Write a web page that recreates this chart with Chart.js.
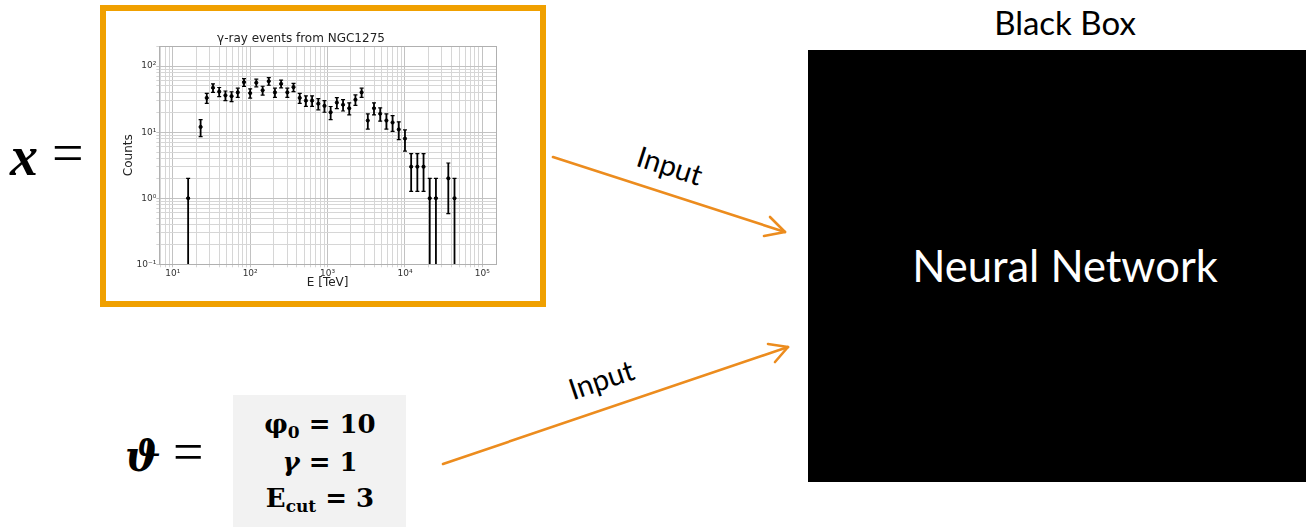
<!DOCTYPE html>
<html>
<head>
<meta charset="utf-8">
<script src="https://cdn.jsdelivr.net/npm/chart.js@4"></script>
<style>
  html, body { margin: 0; padding: 0; background: #fff; }
  #page { position: relative; width: 1306px; height: 527px; overflow: hidden; background: #fff; }
  #plotBox { position: absolute; left: 100px; top: 5px; width: 434px; height: 290px; border: 6px solid #F0A000; background: #fff; }
  #plotBox canvas { position: absolute; left: 0; top: 0; }
  #overlay { position: absolute; left: 0; top: 0; }
</style>
</head>
<body>
<div id="page">
  <svg id="overlay" width="1306" height="527" xmlns="http://www.w3.org/2000/svg">
    <!-- x = -->
    <text x="10" y="175" font-family="Liberation Serif" font-weight="bold" font-style="italic" font-size="56">x</text>
    <text x="52" y="172" font-family="Liberation Serif" font-size="56">=</text>

    <!-- theta = -->
    <text x="125" y="471" font-family="DejaVu Serif" font-weight="bold" font-style="italic" font-size="42">ϑ</text>
    <text x="173" y="470" font-family="Liberation Serif" font-size="54">=</text>

    <!-- parametros del modelo -->
    <rect x="233" y="395" width="173" height="132" fill="#F2F2F2"/>
    <text x="320" y="433" text-anchor="middle" font-family="DejaVu Serif" font-weight="bold" font-size="26">φ<tspan font-size="17" dy="5">0</tspan><tspan dy="-5"> = 10</tspan></text>
    <text x="320" y="471" text-anchor="middle" font-family="DejaVu Serif" font-weight="bold" font-size="26"><tspan font-style="italic">γ</tspan> = 1</text>
    <text x="320" y="507" text-anchor="middle" font-family="DejaVu Serif" font-weight="bold" font-size="26">E<tspan font-size="17" dy="5">cut</tspan><tspan dy="-5"> = 3</tspan></text>

    <!-- caja negra -->
    <text x="1065" y="35" text-anchor="middle" font-family="Lato" font-size="33" fill="#000">Black Box</text>
    <rect x="808" y="50" width="498" height="432" fill="#000"/>
    <text x="1065" y="282" text-anchor="middle" font-family="Lato" font-size="43.5" fill="#fff">Neural Network</text>

    <!-- flechas de entrada -->
    <g stroke="#EC8C1E" stroke-width="2.6" fill="none" stroke-linecap="round" stroke-linejoin="round">
      <line x1="553" y1="157" x2="785" y2="232"/>
      <polyline points="770,217 785,232 764,236"/>
      <line x1="443" y1="464" x2="788" y2="347"/>
      <polyline points="768,344 788,347 775,362"/>
    </g>
    <g font-family="Lato" font-size="29" fill="#000" text-anchor="middle">
      <text transform="translate(669,168) rotate(17.8)" y="8">Input</text>
      <text transform="translate(602,382) rotate(-18.7)" y="8">Input</text>
    </g>
  </svg>

  <div id="plotBox"><canvas id="myChart" width="434" height="290"></canvas></div>
</div>

<script>
// Energia central de cada bin (TeV) y numero de eventos
const energias = [15.8, 22.9, 27.5, 33.1, 39.8, 47.9, 57.5, 69.2, 83.2, 100, 120, 145, 174, 209, 251, 302, 363, 437, 525, 631, 759, 912, 1096, 1318, 1585, 1905, 2291, 2754, 3311, 3981, 4786, 5754, 6918, 8318, 10000, 12023, 14454, 17378, 20893, 25119, 36308, 43652]
const cuentas = [1, 12, 33, 47, 41, 36, 35, 40, 57, 39, 56, 43, 59, 40, 54, 40, 48, 33, 30, 30, 27, 25, 20, 28, 26, 23, 31, 40, 15, 23, 19, 15, 14, 11, 8, 3, 3, 3, 1, 1, 2, 1]

// Etiquetas de las decadas
const decadasX = [1, 2, 3, 4, 5]
const etiquetasX = ['10¹', '10²', '10³', '10⁴', '10⁵']
const decadasY = [-1, 0, 1, 2]
const etiquetasY = ['10⁻¹', '10⁰', '10¹', '10²']

const esPotencia10 = v => Math.abs(Math.log10(v) - Math.round(Math.log10(v))) < 1e-9

// ticks mayores y menores tipo matplotlib (1..9 x 10^n)
const ticksLog = (min, max) => {
    const ticks = []
    for (let e = Math.floor(Math.log10(min)); e <= Math.ceil(Math.log10(max)); e++) {
        for (let k = 1; k <= 9; k++) {
            const v = +(k * Math.pow(10, e)).toPrecision(6)
            if (v >= min && v <= max) ticks.push({ value: v })
        }
    }
    return ticks
}

const etiquetaLog = (valor, decadas, etiquetas) => {
    if (!esPotencia10(valor)) return ''
    const i = decadas.indexOf(Math.round(Math.log10(valor)))
    return i >= 0 ? etiquetas[i] : ''
}

// barras de error de Poisson (sqrt N) dibujadas sobre las escalas
const barrasError = {
    id: 'barrasError',
    afterDatasetsDraw(chart) {
        const { ctx, chartArea, scales: { x, y } } = chart
        ctx.save()
        ctx.beginPath()
        ctx.rect(chartArea.left, chartArea.top, chartArea.right - chartArea.left, chartArea.bottom - chartArea.top)
        ctx.clip()
        ctx.strokeStyle = '#000'
        ctx.lineWidth = 1.8
        energias.forEach((e, i) => {
            const n = cuentas[i]
            const err = Math.sqrt(n)
            const px = x.getPixelForValue(e)
            const yTop = y.getPixelForValue(n + err)
            const yBot = n - err > 0 ? y.getPixelForValue(n - err) : chartArea.bottom + 2
            ctx.beginPath()
            ctx.moveTo(px, yTop)
            ctx.lineTo(px, yBot)
            ctx.stroke()
            ctx.lineWidth = 1.2
            ctx.beginPath()
            ctx.moveTo(px - 2, yTop)
            ctx.lineTo(px + 2, yTop)
            if (n - err > 0) {
                ctx.moveTo(px - 2, yBot)
                ctx.lineTo(px + 2, yBot)
            }
            ctx.stroke()
            ctx.lineWidth = 1.8
        })
        ctx.restore()
        // marco del grafico
        ctx.save()
        ctx.strokeStyle = '#b0b0b0'
        ctx.lineWidth = 1
        ctx.strokeRect(Math.round(chartArea.left) + 0.5, Math.round(chartArea.top) + 0.5,
            Math.round(chartArea.right - chartArea.left), Math.round(chartArea.bottom - chartArea.top))
        ctx.restore()
    }
}

const colorGrid = c => (c.tick && esPotencia10(c.tick.value)) ? '#c2c2c2' : '#d6d6d6'

const ctx = document.getElementById('myChart').getContext('2d')
const myChart = new Chart(ctx, {
    type: 'scatter',
    data: {
        datasets: [{
            label: 'Counts',
            data: energias.map((e, i) => ({ x: e, y: cuentas[i] })),
            backgroundColor: '#000',
            borderColor: '#000',
            pointRadius: 1.6,
            pointHoverRadius: 1.6
        }]
    },
    options: {
        responsive: false,
        animation: false,
        layout: { padding: { left: 0, right: 44, top: 0, bottom: 0 } },
        plugins: {
            legend: { display: false },
            tooltip: { enabled: false },
            title: {
                display: true,
                text: 'γ-ray events from NGC1275',
                color: '#222',
                font: { family: 'DejaVu Sans', size: 12, weight: 'normal' },
                padding: { top: 20.8, bottom: 0 }
            }
        },
        scales: {
            x: {
                type: 'logarithmic',
                min: 6.7,
                max: 150000,
                afterBuildTicks: scale => { scale.ticks = ticksLog(6.7, 150000) },
                afterFit: scale => { scale.height = 36.7 },
                grid: { color: colorGrid, lineWidth: 1, tickLength: 3 },
                border: { display: false },
                ticks: {
                    autoSkip: false,
                    maxRotation: 0,
                    padding: 1,
                    color: '#333',
                    font: { family: 'DejaVu Sans', size: 9 },
                    callback: v => etiquetaLog(v, decadasX, etiquetasX)
                },
                title: {
                    display: true,
                    text: 'E [TeV]',
                    color: '#222',
                    font: { family: 'DejaVu Sans', size: 12 },
                    padding: { top: 0, bottom: 10.5 }
                }
            },
            y: {
                type: 'logarithmic',
                min: 0.1,
                max: 200,
                afterBuildTicks: scale => { scale.ticks = ticksLog(0.1, 200) },
                afterFit: scale => { scale.width = 53.3 },
                grid: { color: colorGrid, lineWidth: 1, tickLength: 3 },
                border: { display: false },
                ticks: {
                    autoSkip: false,
                    padding: 0,
                    color: '#333',
                    font: { family: 'DejaVu Sans', size: 9 },
                    callback: v => etiquetaLog(v, decadasY, etiquetasY)
                },
                title: {
                    display: true,
                    text: 'Counts',
                    color: '#222',
                    font: { family: 'DejaVu Sans', size: 12 },
                    padding: { top: 16, bottom: 0 }
                }
            }
        }
    },
    plugins: [barrasError]
})
myChart.render()
</script>
</body>
</html>
